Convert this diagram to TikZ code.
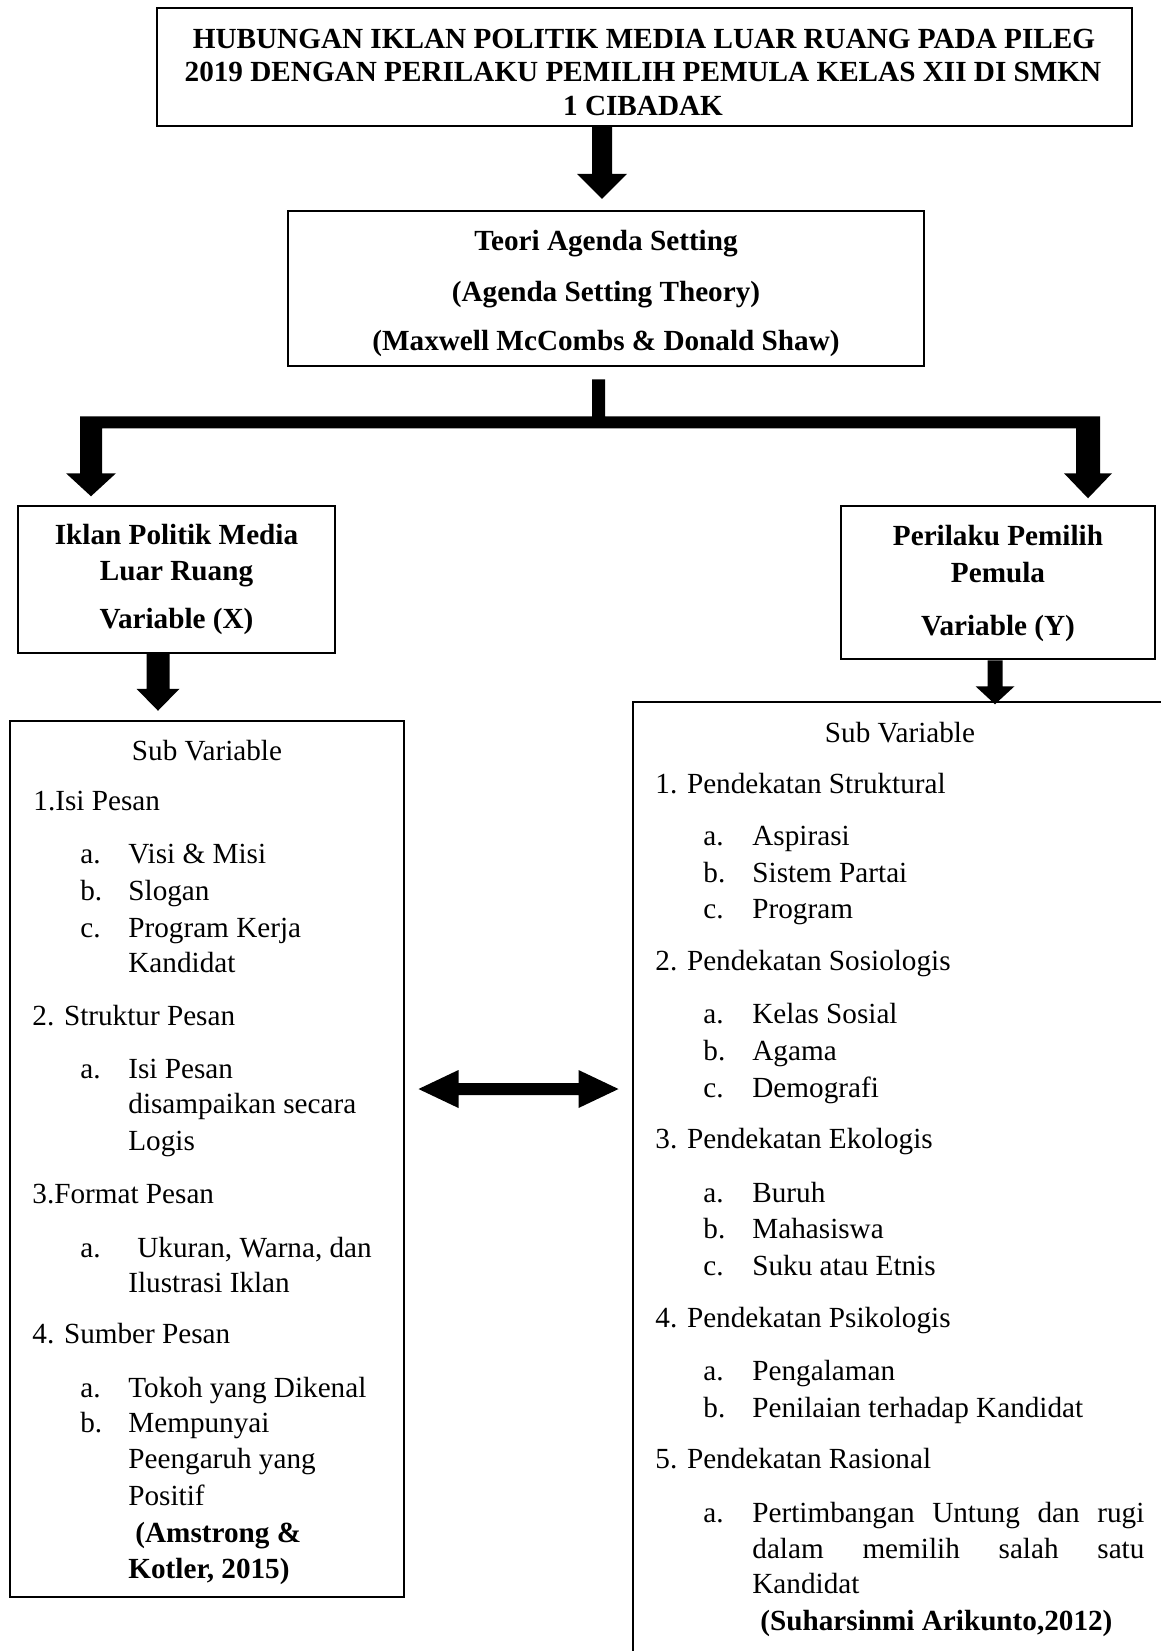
\documentclass[tikz,border=0pt]{standalone}
\usepackage{fontspec}
\setmainfont{Liberation Serif}
\usetikzlibrary{calc,fit}
\newcommand\fs{\fontsize{14.6pt}{18pt}\selectfont}
\tikzset{
  box/.style={draw, line width=1.25pt, inner sep=0pt},
  txt/.style={inner sep=0pt, anchor=base west, font=\fs},
  btxtl/.style={inner sep=0pt, anchor=base west, font=\fs\bfseries},
  ctxt/.style={inner sep=0pt, anchor=base, font=\fs},
  btxt/.style={inner sep=0pt, anchor=base, font=\fs\bfseries},
  blk/.style={fill=black, draw=none},
}
\newcommand\tline[4]{\node[txt] (#1) at (#2,#3) {#4};}
\newcommand\bline[4]{\node[btxt] (#1) at (#2,#3) {#4};}
% vertical block arrow: #1 tip, #2 total length, #3 shaft half width, #4 head half width, #5 head length
\newcommand\vblk[5]{\fill[blk, shift={(#1)}] (0,0) -- (-#4,-#5) -- (-#3,-#5) -- (-#3,-#2) -- (#3,-#2) -- (#3,-#5) -- (#4,-#5) -- cycle;}
\begin{document}
\begin{tikzpicture}[x=0.5pt, y=-0.5pt]
\useasboundingbox (0,0) rectangle (1161,1651);
\fill[white] (0,0) rectangle (1161,1651);

% boxes
\node[box, fit={(157,8) (1132,126)}] (top) {};
\node[box, fit={(288,211) (924,366)}] (box2) {};
\node[box, fit={(18,506) (335,653)}] (boxX) {};
\node[box, fit={(841,506) (1155,659)}] (boxY) {};
\node[box, fit={(10,721) (404,1597)}] (subL) {};
\node[box, fit={(633,702) (1185,1675)}] (subR) {};

% title
\bline{t1}{644}{48}{HUBUNGAN IKLAN POLITIK MEDIA LUAR RUANG PADA PILEG}
\bline{t2}{643}{81}{2019 DENGAN PERILAKU PEMILIH PEMULA KELAS XII DI SMKN}
\bline{t3}{643}{115}{1 CIBADAK}

% theory box
\bline{b1}{606}{250}{Teori Agenda Setting}
\bline{b2}{606}{301}{(Agenda Setting Theory)}
\bline{b3}{606}{350}{(Maxwell McCombs \& Donald Shaw)}

% variable boxes
\bline{x1}{176.5}{544}{Iklan Politik Media}
\bline{x2}{176.5}{580}{Luar Ruang}
\bline{x3}{176.5}{628}{Variable (X)}
\bline{y1}{998}{545}{Perilaku Pemilih}
\bline{y2}{998}{582}{Pemula}
\bline{y3}{998}{635}{Variable (Y)}

% arrows
\coordinate (a1) at ($(box2.north)+(-4,-11)$);
\vblk{a1}{72}{10}{25}{25}
\coordinate (fk) at ($(box2.south)+(-7.5,12)$);
\fill[blk, shift={(fk)}] (-6.5,0) -- (6.5,0) -- (6.5,37) -- (501.5,37) -- (501.5,94)
  -- (513.5,94) -- (489.5,119) -- (465.5,94) -- (477.5,94) -- (477.5,49)
  -- (-496.5,49) -- (-496.5,94) -- (-482.5,94) -- (-507.5,117) -- (-532.5,94)
  -- (-518.5,94) -- (-518.5,37) -- (-6.5,37) -- cycle;
\coordinate (aX) at ($(subL.north)+(-49,-9)$);
\vblk{aX}{57}{11.5}{21.5}{22}
\coordinate (aY) at ($(boxY.south)+(-3,44)$);
\vblk{aY}{44}{7.5}{19.5}{18}
\coordinate (dbl) at ($(subL.east)!0.5!(subL.east -| subR.west)+(0,-70)$);
\fill[blk, shift={(dbl)}] (-100,0) -- (-60,-19) -- (-60,-6) -- (60,-6) -- (60,-19)
  -- (100,0) -- (60,19) -- (60,6) -- (-60,6) -- (-60,19) -- cycle;

% left sub variable box
\node[ctxt] (lsv) at (207,760) {Sub Variable};
\tline{l1}{33}{810}{1.Isi Pesan}
\tline{l1a}{80}{863}{a.}  \tline{l1at}{128}{863}{Visi \& Misi}
\tline{l1b}{80}{900}{b.}  \tline{l1bt}{128}{900}{Slogan}
\tline{l1c}{80}{937}{c.}  \tline{l1ct}{128}{937}{Program Kerja}
\tline{l1cu}{128}{972}{Kandidat}
\tline{l2}{32}{1025}{2. Struktur Pesan}
\tline{l2a}{80}{1078}{a.} \tline{l2at}{128}{1078}{Isi Pesan}
\tline{l2au}{128}{1113}{disampaikan secara}
\tline{l2av}{128}{1150}{Logis}
\tline{l3}{32}{1203}{3.Format Pesan}
\tline{l3a}{80}{1257}{a.} \tline{l3at}{137}{1257}{Ukuran, Warna, dan}
\tline{l3au}{128}{1292}{Ilustrasi Iklan}
\tline{l4}{32}{1343}{4. Sumber Pesan}
\tline{l4a}{80}{1397}{a.} \tline{l4at}{128}{1397}{Tokoh yang Dikenal}
\tline{l4b}{80}{1432}{b.} \tline{l4bt}{128}{1432}{Mempunyai}
\tline{l4bu}{128}{1468}{Peengaruh yang}
\tline{l4bv}{128}{1505}{Positif}
\node[btxtl] (lref1) at (135,1542) {(Amstrong \&};
\node[btxtl] (lref2) at (128,1578) {Kotler, 2015)};

% right sub variable box
\node[ctxt] (rsv) at (900,742) {Sub Variable};
\tline{r1}{655}{793}{1. Pendekatan Struktural}
\tline{r1a}{703}{845}{a.} \tline{r1at}{752}{845}{Aspirasi}
\tline{r1b}{703}{882}{b.} \tline{r1bt}{752}{882}{Sistem Partai}
\tline{r1c}{703}{918}{c.} \tline{r1ct}{752}{918}{Program}
\tline{r2}{655}{970}{2. Pendekatan Sosiologis}
\tline{r2a}{703}{1023}{a.} \tline{r2at}{752}{1023}{Kelas Sosial}
\tline{r2b}{703}{1060}{b.} \tline{r2bt}{752}{1060}{Agama}
\tline{r2c}{703}{1097}{c.} \tline{r2ct}{752}{1097}{Demografi}
\tline{r3}{655}{1148}{3. Pendekatan Ekologis}
\tline{r3a}{703}{1202}{a.} \tline{r3at}{752}{1202}{Buruh}
\tline{r3b}{703}{1238}{b.} \tline{r3bt}{752}{1238}{Mahasiswa}
\tline{r3c}{703}{1275}{c.} \tline{r3ct}{752}{1275}{Suku atau Etnis}
\tline{r4}{655}{1327}{4. Pendekatan Psikologis}
\tline{r4a}{703}{1380}{a.} \tline{r4at}{752}{1380}{Pengalaman}
\tline{r4b}{703}{1417}{b.} \tline{r4bt}{752}{1417}{Penilaian terhadap Kandidat}
\tline{r5}{655}{1468}{5. Pendekatan Rasional}
\tline{r5a}{703}{1522}{a.} \tline{r5at}{752}{1522}{\makebox[196pt][s]{Pertimbangan Untung dan rugi}}
\tline{r5au}{752}{1558}{\makebox[196pt][s]{dalam memilih salah satu}}
\tline{r5av}{752}{1593}{Kandidat}
\node[btxtl] (rref) at (760,1630) {(Suharsinmi Arikunto,2012)};
\end{tikzpicture}
\end{document}
